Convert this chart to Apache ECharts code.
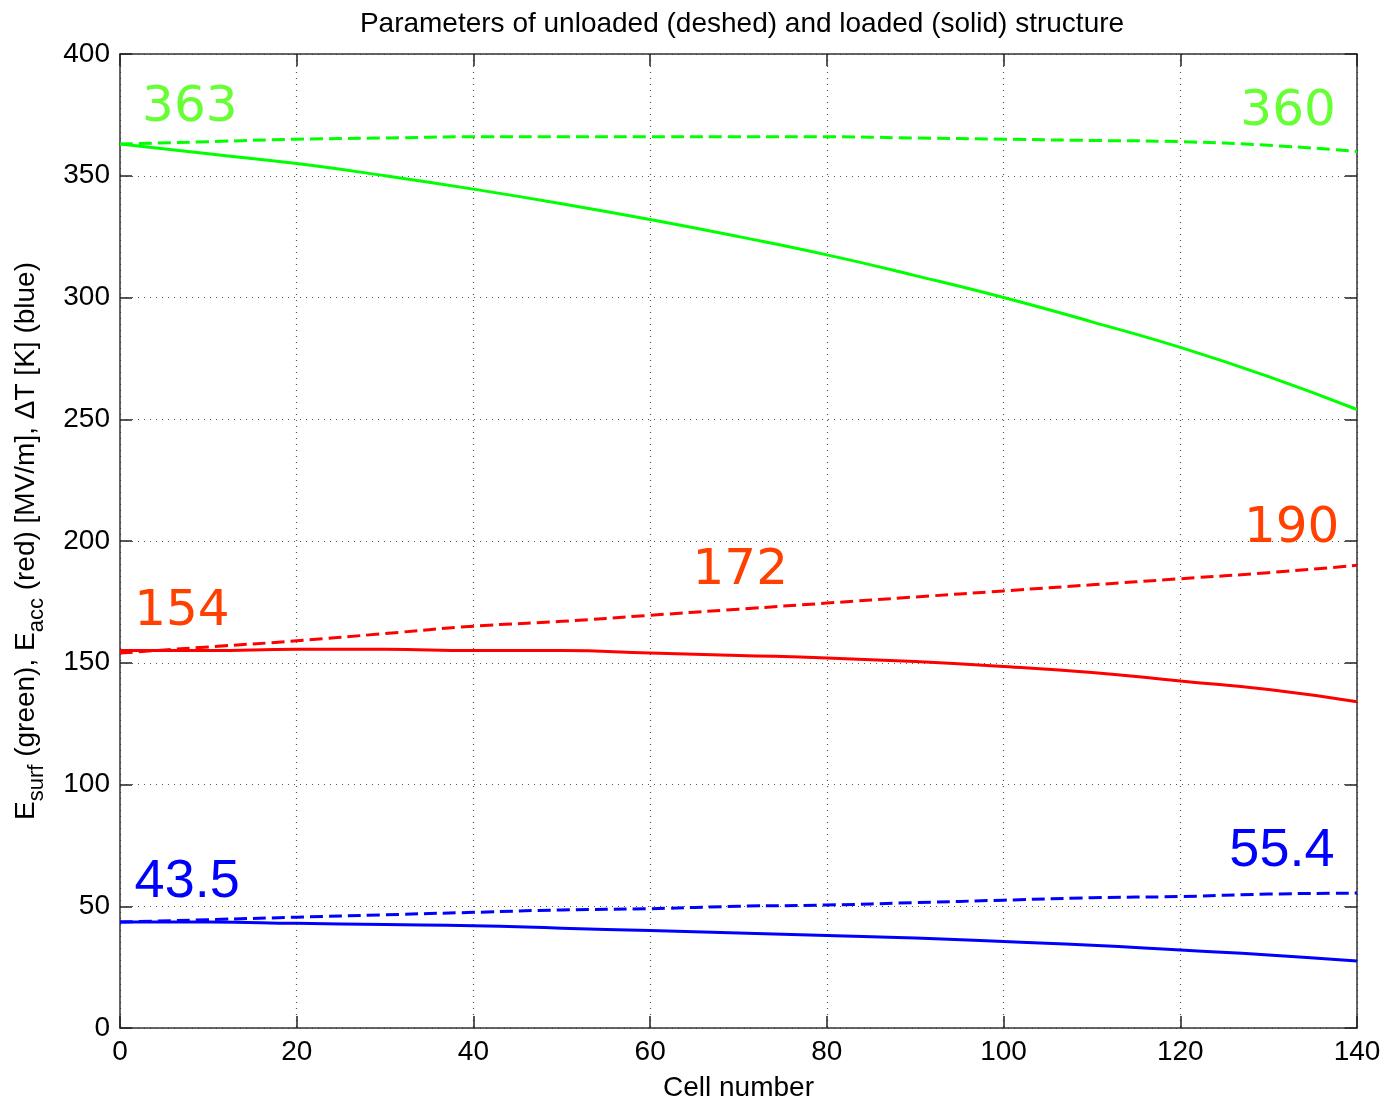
<!DOCTYPE html>
<html>
<head>
<meta charset="utf-8">
<script src="https://cdn.jsdelivr.net/npm/echarts@6/dist/echarts.min.js"></script>
<style>
  html, body { margin: 0; padding: 0; background: #fff; }
  #chart { width: 1389px; height: 1107px; }
</style>
</head>
<body>
<div id="chart"></div>
<script>
// cell numbers
var cells = [0, 10, 20, 30, 40, 50, 60, 70, 80, 90, 100, 110, 120, 130, 140];

// loaded (solid) / unloaded (dashed)
var esurfLoaded   = [363, 359, 355, 350, 344.5, 338.5, 332, 325, 317.5, 309, 300, 290, 279.5, 267.5, 254];
var esurfUnloaded = [363, 364, 365, 365.5, 366, 366, 366, 366, 366, 365.5, 365, 364.5, 364, 362.5, 360];
var eaccLoaded    = [155, 155, 155.5, 155.5, 155, 155, 154, 153, 152, 150.5, 148.5, 146, 142.5, 139, 134];
var eaccUnloaded  = [154, 156.5, 159, 162, 165, 167, 169.5, 172, 174.5, 177, 179.5, 182, 184.5, 187, 190];
var dtLoaded      = [43.5, 43.5, 43, 42.5, 42, 41, 40, 39, 38, 37, 35.5, 34, 32, 30, 27.5];
var dtUnloaded    = [43.5, 44.5, 45.5, 46.5, 47.5, 48.5, 49, 50, 50.5, 51.5, 52.5, 53.5, 54, 55, 55.4];

// annotations: [cell, value, text, which]
var notes = [
  [7.9, 378, "363", "green"],
  [132.2, 376, "360", "green"],
  [7.0, 171, "154", "red"],
  [70.2, 187.5, "172", "red"],
  [132.6, 205, "190", "red"],
  [7.6, 60, "43.5", "blue"],
  [131.5, 72.6, "55.4", "blue"]
];

var GREEN = "#00ff00", RED = "#ff0000", BLUE = "#0000ff";
var noteColor = { green: "#66ff33", red: "#ff4000", blue: "#0000ff" };
var noteFont = { green: "DejaVu Sans", red: "DejaVu Sans", blue: "Liberation Sans" };
var noteSize = { green: 50, red: 50, blue: 54 };

function pairs(ys) {
  return cells.map(function (c, i) { return [c, ys[i]]; });
}

function lineSeries(name, ys, color, dashed) {
  return {
    name: name,
    type: "line",
    data: pairs(ys),
    symbol: "none",
    smooth: true,
    silent: true,
    lineStyle: {
      color: color,
      width: 3,
      type: dashed ? [13, 6] : "solid"
    },
    z: 3
  };
}

var labelSeries = {
  type: "scatter",
  data: notes.map(function (n) {
    return {
      value: [n[0], n[1]],
      label: {
        show: true,
        position: "inside",
        formatter: n[2],
        color: noteColor[n[3]],
        fontFamily: noteFont[n[3]],
        fontSize: noteSize[n[3]]
      }
    };
  }),
  symbolSize: 1,
  itemStyle: { color: "#fff", opacity: 1 },
  silent: true,
  z: 4
};

var chart = echarts.init(document.getElementById("chart"));
var font = "Liberation Sans";
var axisLine = { show: true, onZero: false, lineStyle: { color: "#333", width: 1.5 } };
var tick = { show: true, inside: true, length: 12, lineStyle: { color: "#222", width: 1.5 } };
var dotted = { show: true, lineStyle: { color: "#555", type: [1, 5], width: 1.2 } };

var option = {
  animation: false,
  backgroundColor: "#fff",
  title: {
    text: "Parameters of unloaded (deshed) and loaded (solid) structure",
    left: 737,
    textAlign: "center",
    top: 5,
    textStyle: { fontFamily: font, fontSize: 28, fontWeight: "normal", color: "#000" }
  },
  grid: { left: 120, right: 32, top: 54, bottom: 78 },
  xAxis: [
    {
      type: "value", min: 0, max: 140, interval: 20, position: "bottom",
      name: "Cell number", nameLocation: "middle", nameGap: 46,
      nameTextStyle: { fontFamily: font, fontSize: 28, color: "#000" },
      axisLine: axisLine,
      axisTick: tick,
      axisLabel: { fontFamily: font, fontSize: 28, color: "#000", margin: 10 },
      splitLine: dotted
    },
    {
      type: "value", min: 0, max: 140, interval: 20, position: "top",
      axisLine: axisLine,
      axisTick: tick,
      axisLabel: { show: false },
      splitLine: { show: false }
    }
  ],
  yAxis: [
    {
      type: "value", min: 0, max: 400, interval: 50, position: "left",
      name: "{t|E}{s|surf}{t| (green), E}{s|acc}{t| (red) [MV/m], ΔT [K] (blue)}",
      nameLocation: "middle", nameGap: 80, nameRotate: 90,
      nameTextStyle: {
        rich: {
          t: { fontFamily: font, fontSize: 28, color: "#000", verticalAlign: "bottom", lineHeight: 34 },
          s: { fontFamily: font, fontSize: 22, color: "#000", verticalAlign: "bottom", lineHeight: 24, padding: [0, 0, -8, 0] }
        }
      },
      axisLine: axisLine,
      axisTick: tick,
      axisLabel: { fontFamily: font, fontSize: 28, color: "#000", margin: 10 },
      splitLine: dotted
    },
    {
      type: "value", min: 0, max: 400, interval: 50, position: "right",
      axisLine: axisLine,
      axisTick: tick,
      axisLabel: { show: false },
      splitLine: { show: false }
    }
  ],
  series: [
    lineSeries("Esurf loaded", esurfLoaded, GREEN, false),
    lineSeries("Esurf unloaded", esurfUnloaded, GREEN, true),
    lineSeries("Eacc loaded", eaccLoaded, RED, false),
    lineSeries("Eacc unloaded", eaccUnloaded, RED, true),
    lineSeries("dT loaded", dtLoaded, BLUE, false),
    lineSeries("dT unloaded", dtUnloaded, BLUE, true),
    labelSeries
  ]
};

chart.setOption(option);
</script>
</body>
</html>
